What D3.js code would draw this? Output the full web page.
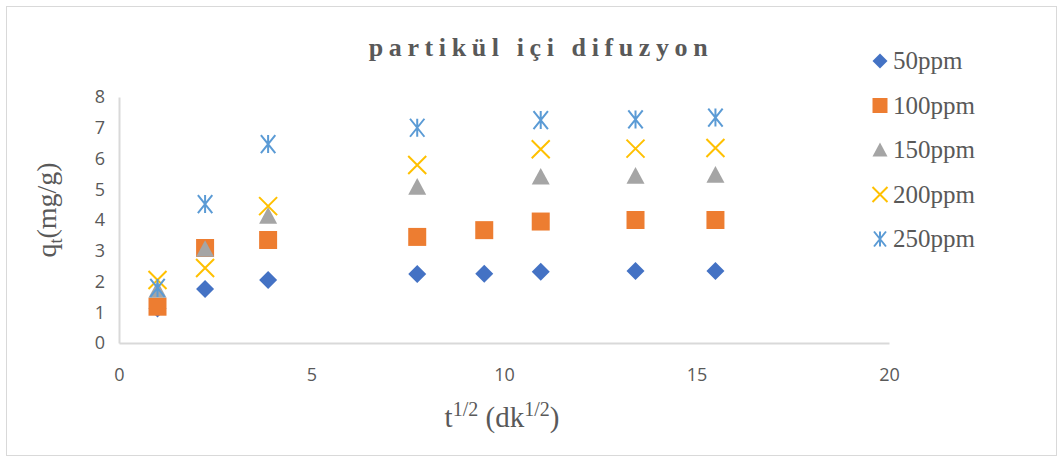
<!DOCTYPE html>
<html>
<head>
<meta charset="utf-8">
<script src="https://cdn.jsdelivr.net/npm/d3@7"></script>
<style>
  body { margin: 0; background: #fff; }
</style>
</head>
<body>
<div class="chart"></div>
<script>
// square root of time (dk^1/2)
var xValues = [1, 2.236, 3.873, 7.746, 9.487, 10.954, 13.416, 15.492];
var seriesNames = ["50ppm", "100ppm", "150ppm", "200ppm", "250ppm"];
var q50 = [1.12, 1.76, 2.05, 2.24, 2.25, 2.32, 2.34, 2.34];
var q100 = [1.18, 3.09, 3.35, 3.45, 3.67, 3.95, 4.0, 4.0];
var q150 = [1.72, 3.05, 4.13, 5.07, null, 5.4, 5.43, 5.46];
var q200 = [2.05, 2.44, 4.45, 5.79, null, 6.3, 6.32, 6.34];
var q250 = [1.79, 4.52, 6.47, 7.0, null, 7.25, 7.27, 7.33];
var xTicks = [0, 5, 10, 15, 20];
var yTicks = [0, 1, 2, 3, 4, 5, 6, 7, 8];

var allSeries = [q50, q100, q150, q200, q250];
var colors = ["#4472C4", "#ED7D31", "#A5A5A5", "#FFC000", "#5B9BD5"];
var shapes = ["diamond", "square", "triangle", "cross", "star"];

var svgWidth = 1064;
var svgHeight = 463;
var margin = { top: 97, left: 119 };
var width = 770;
var height = 246;

var svg = d3.select(".chart")
  .append("svg")
  .attr("width", svgWidth)
  .attr("height", svgHeight);

// outer frame
svg.append("rect")
  .attr("x", 6.5).attr("y", 6.5)
  .attr("width", 1050).attr("height", 449)
  .attr("fill", "#fff")
  .attr("stroke", "#d9d9d9");

var chartGroup = svg.append("g")
  .attr("transform", `translate(${margin.left}, ${margin.top})`);

var xScale = d3.scaleLinear().domain([0, 20]).range([0, width]);
var yScale = d3.scaleLinear().domain([0, 8]).range([height, 0]);

// axes
var bottomAxis = d3.axisBottom(xScale).tickValues(xTicks).tickSize(0).tickPadding(25);
var leftAxis = d3.axisLeft(yScale).tickValues(yTicks).tickSize(0).tickPadding(14);

var gx = chartGroup.append("g")
  .attr("transform", `translate(0, ${height})`)
  .call(bottomAxis);
var gy = chartGroup.append("g").call(leftAxis);

[gx, gy].forEach(function(g) {
  g.select(".domain").attr("stroke", "#d9d9d9").attr("stroke-width", 2);
  g.selectAll("text")
    .attr("fill", "#595959")
    .style("font-family", "'Open Sans', sans-serif")
    .style("font-size", "18px");
});

// marker path builder
function markerPath(shape, s) {
  var h = s / 2;
  var p = d3.path();
  if (shape == "diamond") {
    p.moveTo(0, -h); p.lineTo(h, 0); p.lineTo(0, h); p.lineTo(-h, 0); p.closePath();
  } else if (shape == "square") {
    p.rect(-h, -h, s, s);
  } else if (shape == "triangle") {
    p.moveTo(0, -h); p.lineTo(h, h * 0.85); p.lineTo(-h, h * 0.85); p.closePath();
  } else if (shape == "cross") {
    p.moveTo(-h, -h); p.lineTo(h, h); p.moveTo(h, -h); p.lineTo(-h, h);
  } else {
    p.moveTo(-h * 0.8, -h); p.lineTo(h * 0.8, h);
    p.moveTo(h * 0.8, -h); p.lineTo(-h * 0.8, h);
    p.moveTo(0, -h); p.lineTo(0, h);
  }
  return p.toString();
}

function styleMarker(sel, i) {
  if (shapes[i] == "cross" || shapes[i] == "star") {
    sel.attr("fill", "none").attr("stroke", colors[i]).attr("stroke-width", 2);
  } else {
    sel.attr("fill", colors[i]).attr("stroke", "none");
  }
}

allSeries.forEach(function(vals, i) {
  var pts = vals.map(function(v, j) { return { x: xValues[j], y: v }; })
    .filter(function(d) { return d.y !== null; });
  chartGroup.append("g").selectAll("path")
    .data(pts)
    .enter()
    .append("path")
    .attr("transform", d => `translate(${xScale(d.x)}, ${yScale(d.y)})`)
    .attr("d", markerPath(shapes[i], 18))
    .call(styleMarker, i);
});

// title
svg.append("text")
  .attr("x", 541).attr("y", 56)
  .attr("text-anchor", "middle")
  .attr("fill", "#595959")
  .style("font-family", "'Liberation Serif', serif")
  .style("font-weight", "bold")
  .style("font-size", "26px")
  .style("letter-spacing", "5.6px")
  .text("partikül içi difuzyon");

// x axis title
var xt = svg.append("text")
  .attr("x", 502).attr("y", 427)
  .attr("text-anchor", "middle")
  .attr("fill", "#595959")
  .style("font-family", "'Liberation Serif', serif")
  .style("font-size", "29px");
xt.append("tspan").text("t");
xt.append("tspan").attr("dy", -11).style("font-size", "20px").text("1/2");
xt.append("tspan").attr("dy", 11).text(" (dk");
xt.append("tspan").attr("dy", -11).style("font-size", "20px").text("1/2");
xt.append("tspan").attr("dy", 11).text(")");

// y axis title
var yt = svg.append("text")
  .attr("transform", "translate(56, 210) rotate(-90)")
  .attr("text-anchor", "middle")
  .attr("fill", "#595959")
  .style("font-family", "'Liberation Serif', serif")
  .style("font-size", "28px");
yt.append("tspan").text("q");
yt.append("tspan").attr("dy", 6).style("font-size", "18px").text("t");
yt.append("tspan").attr("dy", -6).text("(mg/g)");

// legend
var legend = svg.append("g");
seriesNames.forEach(function(name, i) {
  var y = 61 + i * 44.5;
  legend.append("path")
    .attr("transform", `translate(880, ${y})`)
    .attr("d", markerPath(shapes[i], 15))
    .call(styleMarker, i);
  legend.append("text")
    .attr("x", 893).attr("y", y + 8)
    .attr("fill", "#595959")
    .style("font-family", "'Liberation Serif', serif")
    .style("font-size", "25px")
    .text(name);
});
</script>
</body>
</html>
